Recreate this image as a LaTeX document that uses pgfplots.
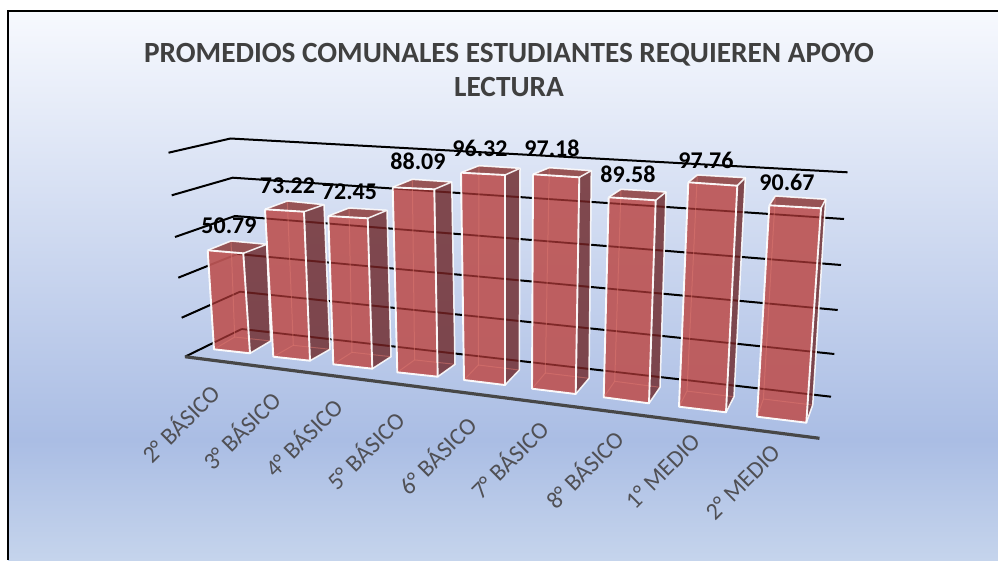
\documentclass[border=0pt]{standalone}
\usepackage{pgfplots}
\pgfplotsset{compat=1.18}
\usepackage{fontspec}
\setmainfont{Carlito}
\definecolor{frontc}{RGB}{189,86,86}
\definecolor{sidec}{RGB}{116,52,56}
\definecolor{topc}{RGB}{146,72,72}
\definecolor{innerc}{RGB}{222,120,112}
\definecolor{gridin}{RGB}{95,15,15}
\definecolor{titlec}{RGB}{64,64,64}
\definecolor{tickc}{RGB}{80,80,85}
\definecolor{bgA}{RGB}{247,249,254}
\definecolor{bgB}{RGB}{170,189,228}
\definecolor{bgC}{RGB}{197,212,236}
\newcommand\gridpaths[1]{%
  \draw[#1] (230.5,138.5) -- (847.5,172.3);
  \draw[#1] (232.7,177.7) -- (844,219);
  \draw[#1] (235,216) -- (841,265);
  \draw[#1] (237.3,254) -- (837.7,310);
  \draw[#1] (240,291.7) -- (834.3,354);
  \draw[#1] (241.7,329) -- (831,396.7);
  \draw[#1] (181.7,317.7) -- (240,291.7);
  \draw[#1] (185,356.7) -- (241.7,329);
}
% TL TR BR BL backleft backright sidebottom backbottomleft
\newcommand\cube[8]{%
  \addplot[draw=none,fill=sidec,fill opacity=0.88] coordinates {#2 #6 #7 #3} -- cycle;
  \addplot[draw=none,fill=topc,fill opacity=0.92] coordinates {#1 #5 #6 #2} -- cycle;
  \addplot[draw=none,fill=frontc,fill opacity=0.93] coordinates {#1 #2 #3 #4} -- cycle;
  \begin{scope}
    \clip #1 -- #2 -- #6 -- #7 -- #3 -- #4 -- cycle;
    \gridpaths{gridin,line width=1.7pt,opacity=0.6}
  \end{scope}
  \addplot[innerc,line width=1pt,opacity=0.5] coordinates {#5 #8 #4};
  \addplot[innerc,line width=1pt,opacity=0.5] coordinates {#8 #7};
  \addplot[white,line width=1.9pt,line join=round,opacity=0.95] coordinates {#1 #2 #3 #4 #1};
  \addplot[white,line width=1.5pt,line join=round,opacity=0.9] coordinates {#1 #5 #6 #2};
  \addplot[white,line width=1.5pt,line join=round,opacity=0.9] coordinates {#6 #7 #3};
}
\begin{document}
\begin{tikzpicture}
\begin{axis}[
  scale only axis, width=998pt, height=560pt,
  xmin=0, xmax=998, ymin=0, ymax=560, y dir=reverse,
  hide axis, clip=true,
]
% background
\path[fill=white] (axis cs:0,0) rectangle (axis cs:998,560);
\path[top color=bgA,bottom color=bgB] (axis cs:8,11) rectangle (axis cs:998,440);
\path[top color=bgB,bottom color=bgC] (axis cs:8,440) rectangle (axis cs:998,560);
\draw[black,line width=2pt] (axis cs:8,560) -- (axis cs:8,11) -- (axis cs:998,11);
% gridlines: left wall and back wall
\addplot[black,line width=2pt] coordinates {(168.5,152.7) (230.5,138.5) (847.5,172.3)};
\addplot[black,line width=2pt] coordinates {(171.7,195.3) (232.7,177.7) (844,219)};
\addplot[black,line width=2pt] coordinates {(175,237) (235,216) (841,265)};
\addplot[black,line width=2pt] coordinates {(178.3,277.7) (237.3,254) (837.7,310)};
\addplot[black,line width=2pt] coordinates {(181.7,317.7) (240,291.7) (834.3,354)};
\addplot[black,line width=2pt] coordinates {(185,356.7) (241.7,329) (831,396.7)};
% floor front edge
\addplot[black!72,line width=3.2pt] coordinates {(185,356.7) (819.5,438.3)};
% bars
\cube{(207.7,250.3)}{(243.3,253.3)}{(250,353.3)}{(214,349.3)}{(231,241)}{(266.7,244.3)}{(270.7,341)}{(234.7,337)}
\cube{(265,209.3)}{(304,211.7)}{(310,360.7)}{(273.3,356.7)}{(287.3,201)}{(324,204.7)}{(330,349.3)}{(293.3,345.3)}
\cube{(328.3,216)}{(367.7,218.3)}{(372.3,368.7)}{(333.3,364.3)}{(349,208)}{(387,210.3)}{(391,356.7)}{(352,352.3)}
\cube{(392.7,187.3)}{(434.3,189.3)}{(437.7,376.7)}{(397.3,372.3)}{(412.3,179.3)}{(451.7,182)}{(455,364.3)}{(414.6,359.9)}
\cube{(461,172.7)}{(505,175)}{(505,385)}{(464,380)}{(479,165.7)}{(520,168.3)}{(519.3,370)}{(478.3,365)}
\cube{(533,174.3)}{(579.3,177.3)}{(575.7,394)}{(532,388.7)}{(549.3,167.7)}{(591.3,170.7)}{(589,378.3)}{(545.3,373)}
\cube{(608.7,197.3)}{(655.7,200.3)}{(649,403.3)}{(603.7,397.3)}{(621,189.3)}{(666,192)}{(660,387.3)}{(614.7,381.3)}
\cube{(688.3,182.3)}{(737.3,185.7)}{(726,412.3)}{(679,406.7)}{(697.3,175)}{(745.3,177.7)}{(734,396.7)}{(687,391.1)}
\cube{(769.3,205.3)}{(821,208.3)}{(806.3,422.7)}{(757,416.7)}{(775.3,196)}{(825.7,199.3)}{(812.7,405)}{(763.4,399)}
% value labels
\addplot[draw=none,mark=none,point meta=explicit symbolic,nodes near coords,
  every node near coord/.append style={anchor=center,font=\fontsize{24}{26}\selectfont\bfseries,text=black}]
  coordinates {(229,226)[50.79] (287.5,186)[73.22] (349.5,192)[72.45] (418,161)[88.09] (480,148)[96.32]
    (552,148)[97.18] (628,174)[89.58] (706,160)[97.76] (787,182)[90.67]};
% title
\node[font=\fontsize{29.3}{34}\selectfont\bfseries,text=titlec,align=center,anchor=center]
  at (axis cs:509,70) {PROMEDIOS COMUNALES ESTUDIANTES REQUIEREN APOYO\\LECTURA};
% category labels
\foreach \x/\y/\t in {180/423/2° BÁSICO,240.7/430/3° BÁSICO,303/437/4° BÁSICO,365/450/5° BÁSICO,436.7/455/6° BÁSICO,509/459/7° BÁSICO,584/469/8° BÁSICO,663/471/1° MEDIO,743/482/2° MEDIO}{
  \edef\temp{\noexpand\node[font=\noexpand\fontsize{24}{26}\noexpand\selectfont,text=tickc,rotate=45,anchor=center] at (axis cs:\x,\y) {\t};}
  \temp
}
\end{axis}
\end{tikzpicture}
\end{document}
